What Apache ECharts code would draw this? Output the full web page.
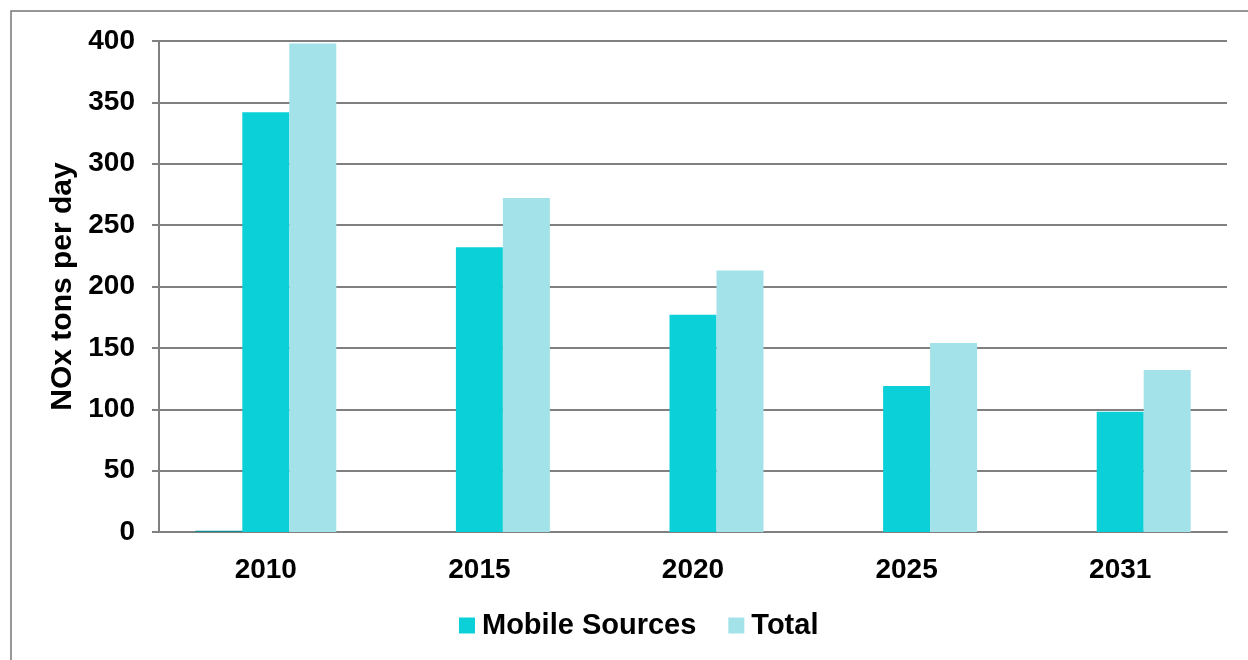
<!DOCTYPE html>
<html lang="en">
  <head>
    <meta charset="UTF-8" />
    <title>NOx tons per day</title>
    <script src="https://cdn.jsdelivr.net/npm/echarts@6/dist/echarts.min.js"></script>
  </head>
  <body style="margin: 0">
    <div id="main" style="width: 1248px; height: 660px"></div>
    <script type="text/javascript">
      // data
      let years = ["2010", "2015", "2020", "2025", "2031"];
      let other = [1, 0, 0, 0, 0]; // tiny dark bar in 2010, not in the legend
      let mobile = [342, 232, 177, 119, 98];
      let total = [398, 272, 213, 154, 132];

      let font = "Liberation Sans, Arial, sans-serif";
      let axisGray = "#808080";

      let options = {
        animation: false,
        textStyle: { fontFamily: font },
        graphic: [
          {
            type: "rect",
            shape: { x: 11, y: 11, width: 1260, height: 670 },
            style: { fill: "none", stroke: "#767676", lineWidth: 1.5 },
            silent: true,
          },
        ],
        grid: { left: 159, right: 21, top: 41, bottom: 128 },
        legend: {
          data: ["Mobile Sources", "Total"],
          left: 454,
          top: 606,
          itemWidth: 16,
          itemHeight: 16,
          itemGap: 32,
          icon: "rect",
          textStyle: {
            fontSize: 29,
            fontWeight: "bold",
            color: "#000",
            fontFamily: font,
            padding: [0, 0, 0, 2],
          },
        },
        xAxis: {
          type: "category",
          data: years,
          axisLine: { lineStyle: { color: axisGray, width: 2 } },
          axisTick: { length: 8, lineStyle: { color: axisGray, width: 2 } },
          axisLabel: { fontSize: 28, fontWeight: "bold", color: "#000", margin: 24, fontFamily: font },
        },
        yAxis: {
          type: "value",
          min: 0,
          max: 400,
          interval: 50,
          name: "NOx tons per day",
          nameLocation: "middle",
          nameGap: 81,
          nameTextStyle: { fontSize: 30, fontWeight: "bold", color: "#000", fontFamily: font },
          axisLine: { show: true, lineStyle: { color: axisGray, width: 2 } },
          axisTick: { show: true, length: 7, lineStyle: { color: axisGray, width: 2 } },
          axisLabel: { fontSize: 28, fontWeight: "bold", color: "#000", margin: 24, fontFamily: font },
          splitLine: { lineStyle: { color: axisGray, width: 2 } },
        },
        series: [
          {
            name: "Other",
            type: "bar",
            data: other,
            barGap: "0%",
            barCategoryGap: "34%",
            itemStyle: { color: "#0e8c8f" },
          },
          {
            name: "Mobile Sources",
            type: "bar",
            data: mobile,
            barGap: "0%",
            barCategoryGap: "34%",
            itemStyle: { color: "#0bd0d8" },
          },
          {
            name: "Total",
            type: "bar",
            data: total,
            barGap: "0%",
            barCategoryGap: "34%",
            itemStyle: { color: "#a2e2e8" },
          },
        ],
      };

      let myChart = echarts.init(document.getElementById("main"));
      myChart.setOption(options);
    </script>
  </body>
</html>
